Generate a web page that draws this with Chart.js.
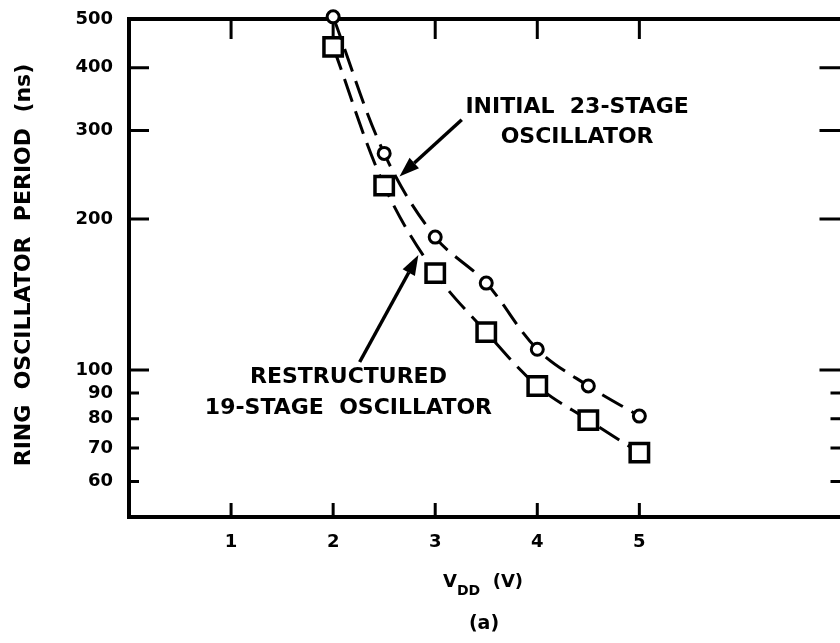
<!DOCTYPE html>
<html>
<head>
<meta charset="utf-8">
<title>Ring oscillator period vs VDD</title>
<script src="https://cdn.jsdelivr.net/npm/chart.js@4"></script>
<style>
  html, body { margin: 0; padding: 0; background: #fff; overflow: hidden; }
  /* a little wider than the window: the right-hand frame edge sits just past it */
  #wrap { position: relative; width: 860px; height: 643px; }
</style>
</head>
<body>
<div id="wrap"><canvas id="osc-chart"></canvas></div>
<script>
// ============================================================
// DATA
// ============================================================

// supply voltage (V)
const vdd = [2, 2.5, 3, 3.5, 4, 4.5, 5];

// ring oscillator period (ns)
const initial23      = [505, 270, 184, 149, 110, 93, 81];
const restructured19 = [440, 233, 156, 119, 93, 79.5, 68.5];

// axis ticks
const xTicks  = [1, 2, 3, 4, 5];
const yMajor  = [100, 200, 300, 400, 500];
const yMinor  = [60, 70, 80, 90];
const yLabels = [60, 70, 80, 90, 100, 200, 300, 400, 500];

// ============================================================
// STYLE
// ============================================================

const INK  = "#000";
const FONT = "'DejaVu Sans', 'Liberation Sans', sans-serif";

// callouts, placed in data units (V, ns)
const notes = [
  { lines: ["INITIAL  23-STAGE", "OSCILLATOR"], x: 4.39, y: [334, 291] },
  { lines: ["RESTRUCTURED", "19-STAGE  OSCILLATOR"], x: 2.15, y: [96.9, 84.1] },
];
const arrows = [
  { from: [3.26, 315], to: [2.65, 243] },
  { from: [2.26, 103.8], to: [2.835, 169.5] },
];

function toPoints(xs, ys) {
  return xs.map((x, i) => ({ x: x, y: ys[i] }));
}

// fixed axis box sizes, no extra room for label overhang
function fixBox(size) {
  return s => {
    if (s.isHorizontal()) s.height = size; else s.width = size;
    s.paddingTop = s.paddingBottom = s.paddingLeft = s.paddingRight = 0;
  };
}

// ============================================================
// PLUGINS
// ============================================================

// box frame with inward ticks on all four sides
const framePlugin = {
  id: "frame",
  beforeDatasetsDraw(chart) {
    const { ctx, chartArea: a, scales: { x, y } } = chart;
    ctx.save();
    ctx.strokeStyle = INK;
    ctx.lineWidth = 4;
    ctx.strokeRect(a.left, a.top, a.right - a.left, a.bottom - a.top);

    ctx.lineWidth = 3;
    ctx.beginPath();
    xTicks.forEach(v => {
      const px = x.getPixelForValue(v);
      ctx.moveTo(px, a.top);    ctx.lineTo(px, a.top + 20);
      ctx.moveTo(px, a.bottom); ctx.lineTo(px, a.bottom - 14);
    });
    yMajor.concat(yMinor).forEach(v => {
      const py = y.getPixelForValue(v);
      const minor = yMinor.includes(v);
      ctx.moveTo(a.left, py);  ctx.lineTo(a.left + (minor ? 10 : 20), py);
      ctx.moveTo(a.right, py); ctx.lineTo(a.right - (minor ? 13 : 24), py);
    });
    ctx.stroke();
    ctx.restore();
  }
};

// callout text + arrows
const notesPlugin = {
  id: "notes",
  afterDatasetsDraw(chart) {
    const { ctx, scales: { x, y } } = chart;
    ctx.save();
    ctx.fillStyle = INK;
    ctx.strokeStyle = INK;
    ctx.font = "bold 22px " + FONT;
    ctx.textAlign = "center";
    ctx.textBaseline = "middle";
    notes.forEach(n => {
      n.lines.forEach((t, i) => {
        ctx.fillText(t, x.getPixelForValue(n.x), y.getPixelForValue(n.y[i]));
      });
    });

    arrows.forEach(ar => {
      const x0 = x.getPixelForValue(ar.from[0]), y0 = y.getPixelForValue(ar.from[1]);
      const x1 = x.getPixelForValue(ar.to[0]),   y1 = y.getPixelForValue(ar.to[1]);
      const ang = Math.atan2(y1 - y0, x1 - x0);
      const head = 20, half = 7;
      const bx = x1 - head * Math.cos(ang), by = y1 - head * Math.sin(ang);

      ctx.lineWidth = 3.5;
      ctx.beginPath();
      ctx.moveTo(x0, y0);
      ctx.lineTo(bx, by);
      ctx.stroke();

      ctx.beginPath();
      ctx.moveTo(x1, y1);
      ctx.lineTo(bx + half * Math.sin(ang), by - half * Math.cos(ang));
      ctx.lineTo(bx - half * Math.sin(ang), by + half * Math.cos(ang));
      ctx.closePath();
      ctx.fill();
    });
    ctx.restore();
  }
};

// axis titles (x title has a subscript, so it is drawn by hand)
const titlesPlugin = {
  id: "titles",
  afterDraw(chart) {
    const { ctx, chartArea: a } = chart;
    ctx.save();
    ctx.fillStyle = INK;

    // y title, rotated
    ctx.translate(24, 265);
    ctx.rotate(-Math.PI / 2);
    ctx.font = "bold 22px " + FONT;
    ctx.textAlign = "center";
    ctx.textBaseline = "middle";
    ctx.fillText("RING  OSCILLATOR  PERIOD  (ns)", 0, 0);
    ctx.setTransform(1, 0, 0, 1, 0, 0);

    // x title: V_DD (V)
    const parts = [
      { t: "V",      size: 18, dy: 0 },
      { t: "DD",     size: 14, dy: 8 },
      { t: "  (V)",  size: 18, dy: 0 },
    ];
    let total = 0;
    parts.forEach(p => {
      ctx.font = `bold ${p.size}px ${FONT}`;
      p.w = ctx.measureText(p.t).width;
      total += p.w;
    });
    const cx = a.left + 354;
    const base = a.bottom + 70;
    let px = cx - total / 2;
    ctx.textAlign = "left";
    ctx.textBaseline = "alphabetic";
    parts.forEach(p => {
      ctx.font = `bold ${p.size}px ${FONT}`;
      ctx.fillText(p.t, px, base + p.dy);
      px += p.w;
    });

    // panel tag
    ctx.font = "bold 19px " + FONT;
    ctx.textAlign = "center";
    ctx.fillText("(a)", cx + 1, base + 42);
    ctx.restore();
  }
};

// ============================================================
// CHART
// ============================================================

const canvas = document.getElementById("osc-chart");

const lineStyle = {
  borderColor: INK,
  borderWidth: 3,
  borderDash: [24, 10],
  tension: 0.35,
  pointBorderColor: INK,
  pointBackgroundColor: "#fff",
  clip: false,
};

new Chart(canvas, {
  type: "line",
  data: {
    datasets: [
      {
        ...lineStyle,
        label: "Initial 23-stage oscillator",
        data: toPoints(vdd, initial23),
        pointStyle: "circle",
        pointRadius: 6,
        pointBorderWidth: 3,
      },
      {
        ...lineStyle,
        label: "Restructured 19-stage oscillator",
        data: toPoints(vdd, restructured19),
        pointStyle: "rect",
        pointRadius: 13,
        pointBorderWidth: 3.5,
      },
    ],
  },
  options: {
    responsive: true,
    maintainAspectRatio: false,
    animation: false,
    layout: { padding: { top: 19, right: 10, left: 0, bottom: 0 } },
    plugins: {
      legend: { display: false },
      tooltip: { enabled: false },
    },
    scales: {
      x: {
        type: "linear",
        min: 0,
        max: 7,
        afterBuildTicks: s => { s.ticks = xTicks.map(v => ({ value: v })); },
        afterFit: fixBox(126),
        grid: { display: false, drawTicks: false },
        border: { display: false },
        ticks: {
          color: INK,
          padding: 15,
          font: { family: FONT, size: 18, weight: "bold" },
          callback: v => String(v),
        },
      },
      y: {
        type: "logarithmic",
        min: 51,
        max: 500,
        afterBuildTicks: s => { s.ticks = yLabels.map(v => ({ value: v })); },
        afterFit: fixBox(129),
        grid: { display: false, drawTicks: false },
        border: { display: false },
        ticks: {
          color: INK,
          padding: 16,
          autoSkip: false,
          font: { family: FONT, size: 18, weight: "bold" },
          callback: v => String(v),
        },
      },
    },
  },
  plugins: [framePlugin, notesPlugin, titlesPlugin],
});
</script>
</body>
</html>
